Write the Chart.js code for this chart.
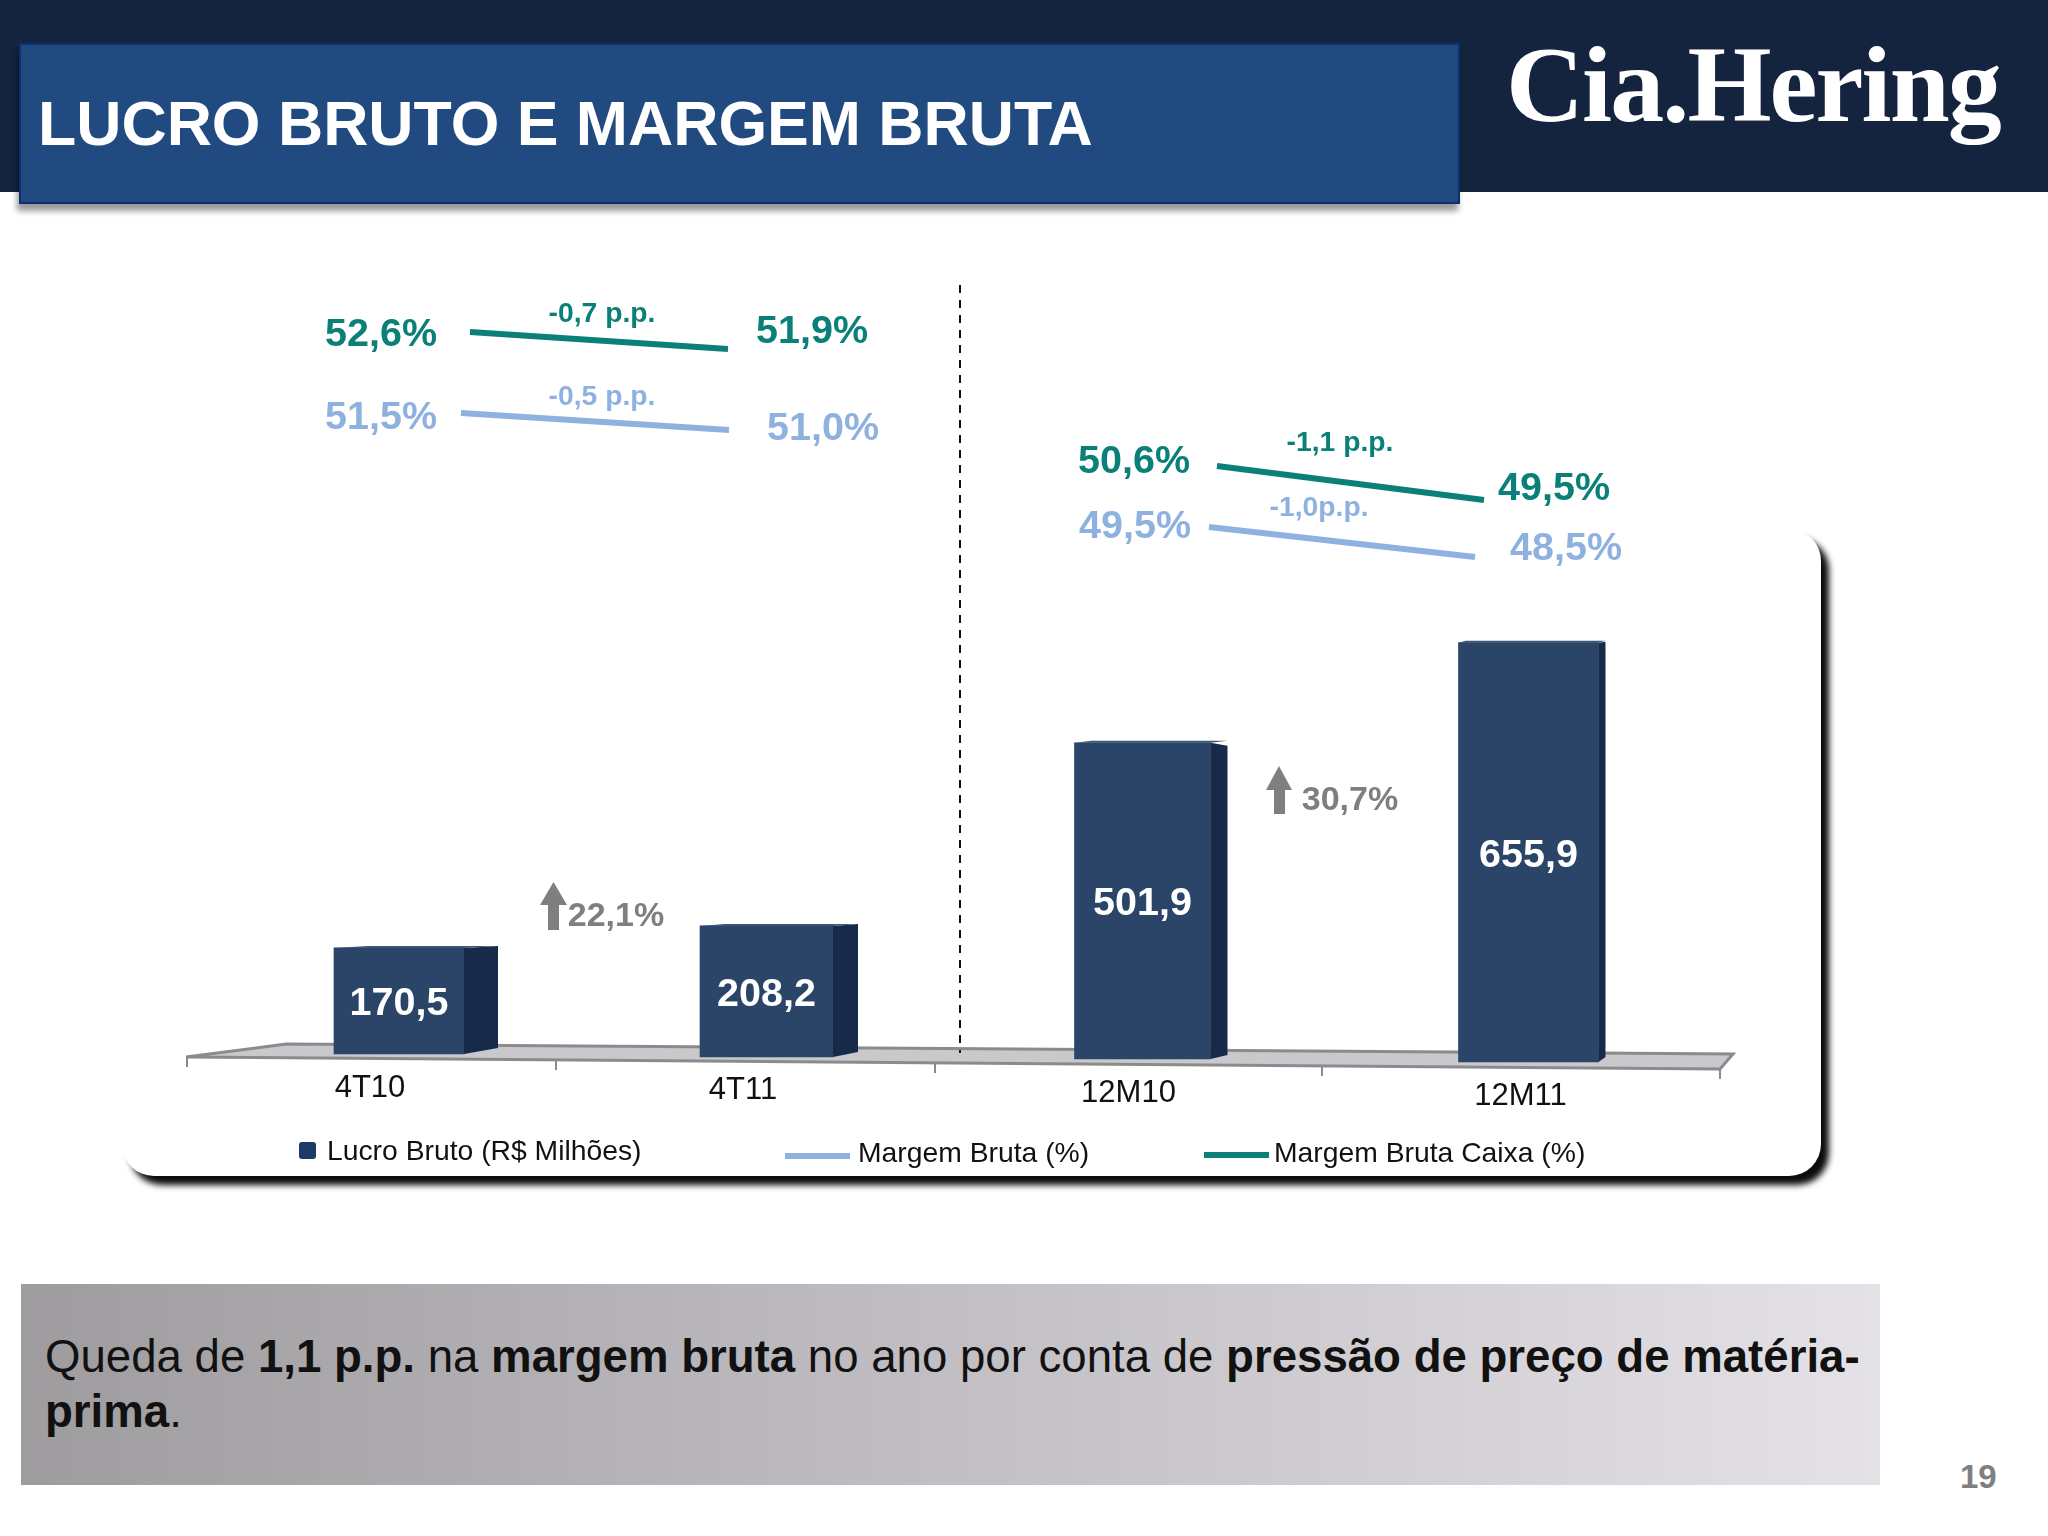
<!DOCTYPE html>
<html lang="pt-BR"><head><meta charset="utf-8">
<script src="https://cdn.jsdelivr.net/npm/chart.js@4/dist/chart.umd.js"></script>
<style>
html,body{margin:0;padding:0;background:#fff;width:2048px;height:1536px;overflow:hidden;font-family:"Liberation Sans",Arial,sans-serif}
.abs{position:absolute}
#header{left:0;top:0;width:2048px;height:192px;background:#14243f}
#titlebox{left:19px;top:43px;width:1441px;height:161px;background:#204a80;border:2px solid #0c2f70;box-sizing:border-box;box-shadow:-2px 7px 6px rgba(0,0,0,.4)}
#title{left:38px;top:89px;font-weight:bold;font-size:62.6px;line-height:68px;color:#fff;white-space:nowrap}
#logo{left:1506px;top:22px;font-family:"Liberation Serif",serif;font-weight:bold;font-size:108px;line-height:126px;letter-spacing:-1.9px;color:#fff;white-space:nowrap}
#panel{left:122px;top:529px;width:1699px;height:647px;background:#fff;border-radius:32px;box-shadow:8px 9px 6px #0c0c0c}
#note{left:21px;top:1284px;width:1859px;height:201px;background:linear-gradient(90deg,#9e9c9f,#e4e2e7)}
#notetext{left:45px;top:1329px;width:1840px;font-size:45.6px;line-height:55px;color:#111}
#page{left:1960px;top:1458px;font-weight:bold;font-size:33px;line-height:38px;color:#7f7f7f}
svg,canvas{position:absolute;left:0;top:0}
</style></head><body>
<div class="abs" id="header"></div>
<div class="abs" id="titlebox"></div>
<div class="abs" id="title">LUCRO BRUTO E MARGEM BRUTA</div>
<div class="abs" id="logo">Cia.Hering</div>
<div class="abs" id="panel"></div>
<div class="abs" id="note"></div>
<div class="abs" id="notetext">Queda de <b>1,1 p.p.</b> na <b>margem bruta</b> no ano por conta de <b>pressão de preço de matéria-prima</b>.</div>
<div class="abs" id="page">19</div>
<svg width="2048" height="1536">
  <polygon points="186,1057 286,1044 1733,1054 1720,1069" fill="#c9c9cd" stroke="#8b8b8b" stroke-width="3"/>
  <g stroke="#8b8b8b" stroke-width="2">
    <line x1="187" y1="1057" x2="187" y2="1067"/><line x1="556" y1="1060" x2="556" y2="1070"/>
    <line x1="935" y1="1063" x2="935" y2="1073"/><line x1="1322" y1="1066" x2="1322" y2="1076"/>
    <line x1="1720" y1="1069" x2="1720" y2="1079"/>
  </g>
  <line x1="960" y1="285" x2="960" y2="1053" stroke="#111" stroke-width="2" stroke-dasharray="8 7"/>
  <polygon points="553.5,882 567,905 559,905 559,930 548,930 548,905 540,905" fill="#7f7f7f"/>
  <polygon points="1279,766 1292,790 1285,790 1285,814 1274,814 1274,790 1266,790" fill="#7f7f7f"/>
</svg>
<canvas id="c" width="2048" height="1536"></canvas>
<script>
// ---- data ----
const periods = ['4T10','4T11','12M10','12M11'];
const grossProfit = [170.5,208.2,501.9,655.9];
const quarterPeriods = ['4T10','4T11'];
const yearPeriods = ['12M10','12M11'];
const cashMargin4T = [52.6,51.9];
const grossMargin4T = [51.5,51.0];
const cashMargin12M = [50.6,49.5];
const grossMargin12M = [49.5,48.5];
const deltaLabels = ['-0,7 p.p.','-0,5 p.p.','-1,1 p.p.','-1,0p.p.'];
const growthLabels = ['22,1%','30,7%'];
const legendLabels = ['Lucro Bruto (R$ Milhões)','Margem Bruta (%)','Margem Bruta Caixa (%)'];

// ---- styling / layout ----
const NAVY='#2a4568', NAVY_DARK='#182a4a', TEAL='#0a8078', SKY='#8fb1e0', GREY='#7f7f7f';
const FONT='"Liberation Sans",Arial,sans-serif';
const AREA_TOP=200, AREA_BOTTOM=1058, AXIS_H=120;
const PX_PER_UNIT=0.637;
const tilt=[-4,-1,1,4];                 // the perspective floor slopes down to the right
const topNudge=[2.5,1.5,3.5,-1.5];      // perspective correction of the bar tops
const labelTilt=[0,2,5,8];
const barWidth=[130,133,136,140];
const sideDX=[34,25,17,7], sideTopDY=[-2,-2,3,-1], sideBaseDY=[-6,-5,-4,-5];
const centres={
  xLabels:[370,743,1128.5,1520.5],
  xBar:[399,766.5,1142.5,1528.5],
  xCash4T:[470,728], xGross4T:[461,729],
  xCash12M:[1217,1484], xGross12M:[1209,1475]
};
const rangeFor=(vals,pA,pB)=>{
  const s=(pB-pA)/(vals[1]-vals[0]);
  return {max:vals[0]+(AREA_TOP-pA)/s, min:vals[0]+(AREA_BOTTOM-pA)/s};
};

class PlacedCategoryScale extends Chart.CategoryScale{
  getPixelForValue(v){
    if(typeof v!=='number') v=this.parse(v);
    return centres[this.id][v];
  }
  _computeLabelItems(area){
    const items=super._computeLabelItems(area);
    items.forEach((it,i)=>{it.options.translation[1]+=labelTilt[i]||0;});
    return items;
  }
}
PlacedCategoryScale.id='placedCategory';
PlacedCategoryScale.defaults={};
Chart.register(PlacedCategoryScale);

const hiddenX=(labels)=>({type:'placedCategory',display:false,labels});
const hiddenY=(r)=>({type:'linear',display:false,bounds:'data',min:r.min,max:r.max});
const lineDs=(label,data,color,x,y)=>({type:'line',label,data,xAxisID:x,yAxisID:y,borderColor:color,backgroundColor:color,borderWidth:6,tension:0,pointRadius:0,borderCapStyle:'butt',clip:false,order:1});

const fmt=v=>v.toFixed(1).replace('.',',');
const percentLabels=[
  {v:cashMargin4T[0],x:381,y:334,c:TEAL},{v:cashMargin4T[1],x:812,y:331,c:TEAL},
  {v:grossMargin4T[0],x:381,y:417,c:SKY},{v:grossMargin4T[1],x:823,y:428,c:SKY},
  {v:cashMargin12M[0],x:1134,y:461,c:TEAL},{v:cashMargin12M[1],x:1554,y:488,c:TEAL},
  {v:grossMargin12M[0],x:1135,y:526,c:SKY},{v:grossMargin12M[1],x:1566,y:548,c:SKY}
];
const deltaStyle=[{x:602,y:314,c:TEAL},{x:602,y:397,c:SKY},{x:1340,y:443,c:TEAL},{x:1319,y:508,c:SKY}];
const growthStyle=[{x:616,y:917},{x:1350,y:801}];

const decor={
  id:'decor',
  afterDatasetsUpdate(chart){
    const m=chart.getDatasetMeta(0);
    m.data.forEach((el,i)=>{el.width=barWidth[i];el.y+=tilt[i]+topNudge[i];el.base+=tilt[i];el.height=el.base-el.y;});
  },
  afterDatasetsDraw(chart){
    const ctx=chart.ctx, m=chart.getDatasetMeta(0);
    ctx.save();
    m.data.forEach((el,i)=>{
      const r=el.x+el.width/2, l=el.x-el.width/2;
      ctx.fillStyle=NAVY_DARK;
      ctx.beginPath();
      ctx.moveTo(r,el.y);ctx.lineTo(r+sideDX[i],el.y+sideTopDY[i]);
      ctx.lineTo(r+sideDX[i],el.base+sideBaseDY[i]);ctx.lineTo(r,el.base);ctx.closePath();ctx.fill();
      ctx.fillStyle='#3a5577';
      ctx.beginPath();
      ctx.moveTo(l,el.y);ctx.lineTo(l+sideDX[i],el.y-2);ctx.lineTo(r+sideDX[i],el.y-2);ctx.lineTo(r,el.y);ctx.closePath();ctx.fill();
      ctx.fillStyle='#fff';ctx.font='bold 39.5px '+FONT;ctx.textAlign='center';ctx.textBaseline='middle';
      ctx.fillText(fmt(grossProfit[i]),el.x,(el.y+el.base)/2+3.5);
    });
    ctx.textAlign='center';ctx.textBaseline='middle';
    ctx.font='bold 39.5px '+FONT;
    percentLabels.forEach(p=>{ctx.fillStyle=p.c;ctx.fillText(fmt(p.v)+'%',p.x,p.y+1);});
    ctx.font='bold 28.3px '+FONT;
    deltaLabels.forEach((t,i)=>{const s=deltaStyle[i];ctx.fillStyle=s.c;ctx.fillText(t,s.x,s.y);});
    ctx.font='bold 34px '+FONT;ctx.fillStyle=GREY;
    growthLabels.forEach((t,i)=>{const s=growthStyle[i];ctx.fillText(t,s.x,s.y);});
    // legend
    ctx.textAlign='left';ctx.font='28.3px '+FONT;ctx.fillStyle='#111';
    ctx.fillText(legendLabels[0],327,1152.5);
    ctx.fillText(legendLabels[1],858,1154.5);
    ctx.fillText(legendLabels[2],1274,1154.5);
    ctx.fillStyle='#1c3a66';ctx.beginPath();ctx.roundRect(299,1142,17,17,3);ctx.fill();
    ctx.fillStyle=SKY;ctx.fillRect(785,1153,65,6);
    ctx.fillStyle=TEAL;ctx.fillRect(1204,1152,65,6);
    ctx.restore();
  }
};

new Chart(document.getElementById('c'),{
  data:{
    labels:periods,
    datasets:[
      {type:'bar',label:legendLabels[0],data:grossProfit,xAxisID:'xBar',yAxisID:'y',backgroundColor:NAVY,barThickness:134,grouped:false,borderWidth:0,clip:false,order:2},
      lineDs(legendLabels[2],cashMargin4T,TEAL,'xCash4T','yCash4T'),
      lineDs(legendLabels[1],grossMargin4T,SKY,'xGross4T','yGross4T'),
      lineDs(legendLabels[2],cashMargin12M,TEAL,'xCash12M','yCash12M'),
      lineDs(legendLabels[1],grossMargin12M,SKY,'xGross12M','yGross12M')
    ]
  },
  options:{
    responsive:false,animation:false,events:[],
    layout:{padding:{top:AREA_TOP,left:0,right:0,bottom:1536-AREA_BOTTOM-AXIS_H}},
    plugins:{legend:{display:false},tooltip:{enabled:false},title:{display:false}},
    scales:{
      xLabels:{type:'placedCategory',position:'bottom',labels:periods,
        grid:{display:false,drawTicks:false},border:{display:false},
        afterFit(s){s.height=AXIS_H;},
        ticks:{autoSkip:false,maxRotation:0,minRotation:0,padding:11.5,color:'#111',font:{family:FONT,size:31}}},
      xBar:hiddenX(periods),
      y:{type:'linear',display:false,bounds:'data',min:0,max:(AREA_BOTTOM-AREA_TOP)/PX_PER_UNIT},
      xCash4T:hiddenX(quarterPeriods),xGross4T:hiddenX(quarterPeriods),
      xCash12M:hiddenX(yearPeriods),xGross12M:hiddenX(yearPeriods),
      yCash4T:hiddenY(rangeFor(cashMargin4T,332,349)),
      yGross4T:hiddenY(rangeFor(grossMargin4T,413,430)),
      yCash12M:hiddenY(rangeFor(cashMargin12M,466,500)),
      yGross12M:hiddenY(rangeFor(grossMargin12M,527,557))
    }
  },
  plugins:[decor]
});
</script>
</body></html>
